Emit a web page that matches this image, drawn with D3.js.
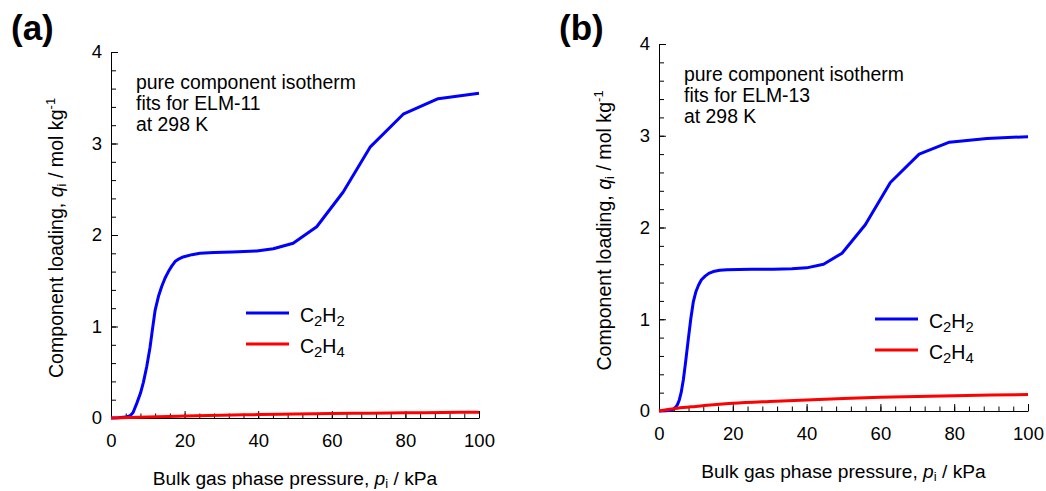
<!DOCTYPE html>
<html>
<head>
<meta charset="utf-8">
<script src="https://cdn.jsdelivr.net/npm/d3@7"></script>
<style>
  body { margin: 0; background: #fff; }
  svg text { font-family: Arial, "Liberation Sans", sans-serif; fill: #000; }
</style>
</head>
<body>
<div id="chart"></div>
<script>
// pressure (kPa), loading (mol/kg)
const elm11C2H2 = [[0,0],[2,0.002],[4,0.01],[5.2,0.025],[6,0.06],[7,0.16],[8,0.27],[8.8,0.39],[9.7,0.56],
  [10.6,0.77],[11.3,0.98],[12,1.18],[12.9,1.33],[13.8,1.44],[14.7,1.53],[15.6,1.6],[16.5,1.66],[17.4,1.71],
  [18.5,1.74],[19.6,1.76],[22,1.785],[24.2,1.8],[28,1.81],[33,1.815],[39.6,1.825],[44.1,1.85],[49.5,1.91],
  [55.9,2.09],[63.1,2.47],[70.4,2.96],[79.4,3.32],[88.9,3.49],[100,3.55]];
const elm11C2H4 = [[0,0],[10,0.012],[20,0.022],[30,0.03],[40,0.037],[50,0.043],[60,0.048],[70,0.053],
  [80,0.057],[90,0.06],[100,0.063]];
const elm13C2H2 = [[0,0],[2,0.003],[3.5,0.01],[4.3,0.03],[5,0.07],[5.5,0.12],[6,0.2],[6.6,0.34],[7.2,0.53],
  [7.9,0.77],[8.6,1.0],[9.3,1.19],[10,1.3],[10.7,1.37],[11.5,1.43],[12.5,1.47],[13.5,1.5],[14.7,1.52],
  [16.5,1.535],[18.4,1.54],[25,1.545],[31,1.545],[36,1.55],[40,1.56],[44.6,1.6],[49.6,1.72],[55.9,2.03],
  [62.7,2.49],[70.5,2.8],[78.7,2.93],[88.9,2.97],[100,2.99]];
const elm13C2H4 = [[0,0],[5,0.03],[10,0.05],[20,0.084],[30,0.104],[40,0.12],[50,0.136],[60,0.149],
  [70,0.159],[80,0.167],[90,0.174],[100,0.18]];

const xTicks = [0, 20, 40, 60, 80, 100];
const yTicks = [0, 1, 2, 3, 4];
const seriesNames = ["C2H2", "C2H4"];
const seriesColors = ["#0000ff", "#ff0000"];

const panels = [
  { tag: "(a)", material: "ELM-11", data: [elm11C2H2, elm11C2H4],
    left: 111, right: 479, top: 52, bottom: 418, legendX: 246, legendY: 313 },
  { tag: "(b)", material: "ELM-13", data: [elm13C2H2, elm13C2H4],
    left: 659, right: 1028, top: 44, bottom: 411, legendX: 875, legendY: 319 }
];

const svg = d3.select("#chart").append("svg")
  .attr("width", 1046)
  .attr("height", 491);

function formula(sel, name, size) {
  // C2H2 -> C, sub 2, H, sub 2
  const parts = name.match(/[A-Z]|\d/g);
  let sub = false;
  parts.forEach(p => {
    const isNum = /\d/.test(p);
    const t = sel.append("tspan").text(p);
    if (isNum) {
      t.attr("font-size", size * 0.76).attr("dy", sub ? 0 : 4);
      sub = true;
    } else {
      t.attr("dy", sub ? -4 : 0);
      sub = false;
    }
  });
}

panels.forEach(pn => {
  const x = d3.scaleLinear().domain([0, 100]).range([pn.left, pn.right]);
  const y = d3.scaleLinear().domain([0, 4]).range([pn.bottom, pn.top]);

  // minor ticks
  svg.append("g")
    .attr("transform", `translate(0,${pn.bottom})`)
    .call(d3.axisBottom(x).tickValues(d3.range(0, 101, 4)).tickSize(-4.5).tickFormat(""))
    .call(g => g.select(".domain").remove());
  svg.append("g")
    .attr("transform", `translate(${pn.left},0)`)
    .call(d3.axisLeft(y).tickValues(d3.range(0, 4.01, 0.2)).tickSize(-5).tickFormat(""))
    .call(g => g.select(".domain").remove());

  // major ticks
  const gx = svg.append("g")
    .attr("transform", `translate(0,${pn.bottom})`)
    .call(d3.axisBottom(x).tickValues(xTicks).tickSizeInner(-7).tickSizeOuter(0).tickPadding(16));
  const gy = svg.append("g")
    .attr("transform", `translate(${pn.left},0)`)
    .call(d3.axisLeft(y).tickValues(yTicks).tickSizeInner(-7).tickSizeOuter(0).tickPadding(9).tickFormat(d3.format("d")));
  [gx, gy].forEach(g => {
    g.selectAll("text").attr("font-size", 18.5).attr("font-family", null);
    g.selectAll("line,path").attr("stroke", "#000");
  });

  // series
  const line = d3.line().x(d => x(d[0])).y(d => y(d[1]));
  pn.data.forEach((s, i) => {
    svg.append("path")
      .datum(s)
      .attr("fill", "none")
      .attr("stroke", seriesColors[i])
      .attr("stroke-width", 3)
      .attr("stroke-linejoin", "round")
      .attr("d", i === 0 ? line : line.curve(d3.curveMonotoneX));
    line.curve(d3.curveLinear);
  });

  // legend
  seriesNames.forEach((name, i) => {
    const ly = pn.legendY + i * 31;
    svg.append("line")
      .attr("x1", pn.legendX).attr("x2", pn.legendX + 43)
      .attr("y1", ly).attr("y2", ly)
      .attr("stroke", seriesColors[i]).attr("stroke-width", 3);
    const t = svg.append("text")
      .attr("x", pn.legendX + 54).attr("y", ly + 9)
      .attr("font-size", 19.5);
    formula(t, name, 19.5);
  });

  // note
  const note = ["pure component isotherm", `fits for ${pn.material}`, "at 298 K"];
  note.forEach((s, i) => {
    svg.append("text")
      .attr("x", pn.left + 25)
      .attr("y", pn.top + 37 + i * 21.2)
      .attr("font-size", 19.4)
      .text(s);
  });

  // axis titles
  const xl = svg.append("text")
    .attr("x", (pn.left + pn.right) / 2)
    .attr("y", pn.bottom + 67)
    .attr("text-anchor", "middle")
    .attr("font-size", 19.2);
  xl.append("tspan").text("Bulk gas phase pressure, ");
  xl.append("tspan").attr("font-style", "italic").text("p");
  xl.append("tspan").attr("font-size", 13).attr("dy", 3).text("i");
  xl.append("tspan").attr("dy", -3).text(" / kPa");

  const yl = svg.append("text")
    .attr("transform", `translate(${pn.left - 48},${(pn.top + pn.bottom) / 2 + 3}) rotate(-90)`)
    .attr("text-anchor", "middle")
    .attr("font-size", 19.6);
  yl.append("tspan").text("Component loading, ");
  yl.append("tspan").attr("font-style", "italic").text("q");
  yl.append("tspan").attr("font-size", 13).attr("dy", 3).text("i");
  yl.append("tspan").attr("dy", -3).text(" / mol kg");
  yl.append("tspan").attr("font-size", 13).attr("dy", -8).text("-1");

  // panel tag
  svg.append("text")
    .attr("x", pn.left - 100)
    .attr("y", 40)
    .attr("font-size", 35)
    .attr("font-weight", "bold")
    .text(pn.tag);
});
</script>
</body>
</html>
